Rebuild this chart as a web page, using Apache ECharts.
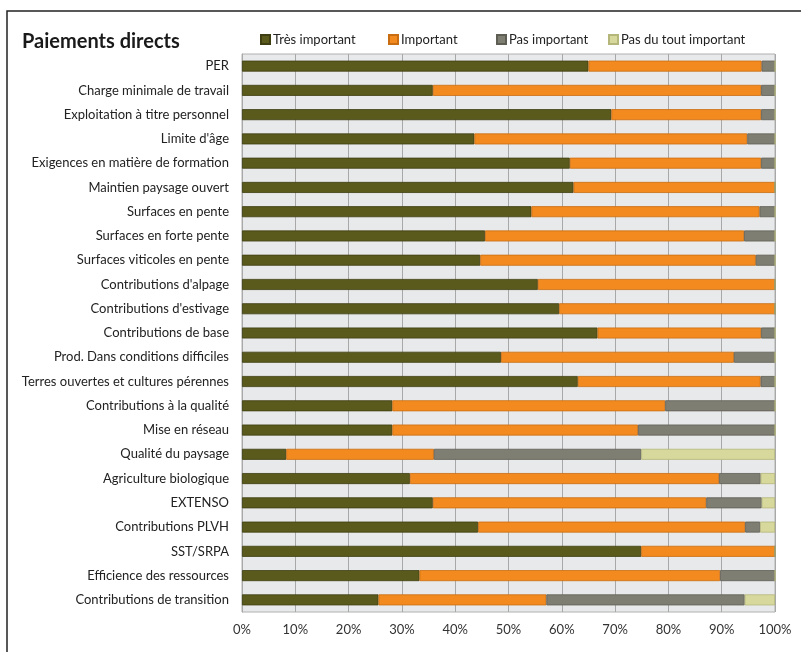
<!DOCTYPE html>
<html>
<head>
<meta charset="utf-8">
<script src="https://cdn.jsdelivr.net/npm/echarts@6/dist/echarts.min.js"></script>
<style>html,body{margin:0;padding:0;background:#fff}#c{width:801px;height:652px}</style>
</head>
<body>
<div id="c"></div>
<script>
const categories = ["PER","Charge minimale de travail","Exploitation à titre personnel","Limite d'âge","Exigences en matière de formation","Maintien paysage ouvert","Surfaces en pente","Surfaces en forte pente","Surfaces viticoles en pente","Contributions d'alpage","Contributions d'estivage","Contributions de base","Prod. Dans conditions difficiles","Terres ouvertes et cultures pérennes","Contributions à la qualité","Mise en réseau","Qualité du paysage","Agriculture biologique","EXTENSO","Contributions PLVH","SST/SRPA","Efficience des ressources","Contributions de transition"];
const tresImportant = [65.0,35.8,69.3,43.6,61.5,62.2,54.3,45.6,44.7,55.5,59.5,66.7,48.6,63.0,28.2,28.2,8.3,31.5,35.8,44.3,74.9,33.3,25.6];
const important =     [32.5,61.6,28.1,51.2,35.9,37.8,42.8,48.6,51.7,44.5,40.5,30.7,43.7,34.3,51.2,46.1,27.7,58.0,51.3,50.1,25.1,56.4,31.5];
const pasImportant =  [2.5,2.6,2.6,5.2,2.6,0,2.9,5.8,3.6,0,0,2.6,7.7,2.7,20.6,25.7,38.9,7.8,10.4,2.8,0,10.3,37.2];
const pasDuTout =     [0,0,0,0,0,0,0,0,0,0,0,0,0,0,0,0,25.1,2.7,2.5,2.8,0,0,5.7];
const seriesNames = ["Très important","Important","Pas important","Pas du tout important"];
const xTicks = [0,10,20,30,40,50,60,70,80,90,100];

const colors = ["#5a5a1c","#f28a1f","#7f7e72","#d7d89c"];
const borders = ["#3e3e12","#c96d12","#5f5e55","#b5b67a"];
const font = "Lato, 'Open Sans', sans-serif";
const chart = echarts.init(document.getElementById('c'));
const dataSets = [tresImportant, important, pasImportant, pasDuTout];
const legendLefts = [255, 383, 491, 603];
chart.setOption({
  animation: false,
  textStyle: {fontFamily: font},
  title: {text: "Paiements directs", left: 17, top: 27, textStyle: {fontSize: 20, fontWeight: 'bold', color: '#1a1a1a', fontFamily: font}},
  graphic: [{type: 'rect', shape: {x: 7, y: 11, width: 820, height: 700}, style: {fill: 'none', stroke: '#222', lineWidth: 1.5}, z: -1}],
  legend: seriesNames.map((n, i) => ({
    data: [n], left: legendLefts[i], top: 28, itemWidth: 9, itemHeight: 9, itemGap: 4,
    textStyle: {fontSize: 13, color: '#222', fontFamily: font, padding: [0,0,0,-2]}, icon: 'rect'
  })),
  grid: {left: 242, right: 26, top: 54, bottom: 40, containLabel: false, show: true, backgroundColor: '#e8e9ea', borderColor: '#b0b0b0', borderWidth: 1},
  xAxis: {type: 'value', min: 0, max: 100, interval: 10,
    axisLabel: {formatter: v => xTicks.includes(v) ? v + '%' : '', fontSize: 13, color: '#333', margin: 11, fontFamily: font},
    splitLine: {show: true, lineStyle: {color: '#a8a8a8', width: 1}},
    axisLine: {show: false}, axisTick: {show: false}},
  yAxis: {type: 'category', data: categories, inverse: true,
    axisLabel: {fontSize: 13, color: '#222', margin: 13, fontFamily: font},
    axisLine: {show: true, lineStyle: {color: '#a8a8a8'}}, axisTick: {show: false}},
  series: seriesNames.map((n, i) => ({
    name: n, type: 'bar', stack: 'total', barWidth: 11,
    itemStyle: {color: colors[i], borderColor: borders[i], borderWidth: 0.8},
    data: dataSets[i]
  }))
});
</script>
</body>
</html>
